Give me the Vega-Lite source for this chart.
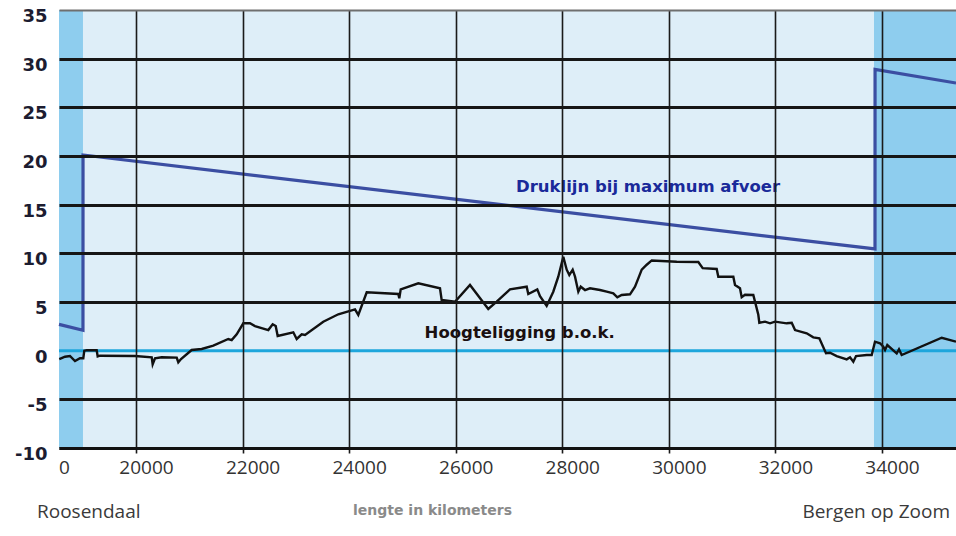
{
  "$schema": "https://vega.github.io/schema/vega-lite/v6.json",
  "width": 897,
  "height": 438,
  "autosize": {"type": "none"},
  "padding": {"left": 59, "top": 10, "right": 0, "bottom": 88},
  "background": "white",
  "config": {"view": {"fill": "#deeef8", "stroke": null}},
  "datasets": {
    "bands": [
      {"x0": 18555, "x1": 19005},
      {"x0": 33850, "x1": 35389}
    ],
    "zero": [{"y": 0}],
    "druk": [
      {"x": 18555, "y": 2.7},
      {"x": 19005, "y": 2.1},
      {"x": 19006, "y": 20.1},
      {"x": 33869, "y": 10.45},
      {"x": 33870, "y": 28.9},
      {"x": 35389, "y": 27.5}
    ],
    "terrain": [
      {"x": 18560, "y": -0.86}, {"x": 18668, "y": -0.62}, {"x": 18761, "y": -0.55},
      {"x": 18855, "y": -1.06}, {"x": 18949, "y": -0.78}, {"x": 19011, "y": -0.78},
      {"x": 19030, "y": 0.0}, {"x": 19075, "y": 0.04}, {"x": 19262, "y": 0.04},
      {"x": 19281, "y": -0.6}, {"x": 19324, "y": -0.52}, {"x": 19981, "y": -0.55},
      {"x": 20295, "y": -0.68}, {"x": 20313, "y": -1.4}, {"x": 20357, "y": -0.78},
      {"x": 20482, "y": -0.68}, {"x": 20764, "y": -0.72}, {"x": 20794, "y": -1.19},
      {"x": 20845, "y": -0.86}, {"x": 21045, "y": 0.07}, {"x": 21233, "y": 0.17},
      {"x": 21451, "y": 0.51}, {"x": 21732, "y": 1.2}, {"x": 21796, "y": 1.09},
      {"x": 21890, "y": 1.68}, {"x": 22014, "y": 2.81}, {"x": 22139, "y": 2.81},
      {"x": 22233, "y": 2.53}, {"x": 22483, "y": 2.12}, {"x": 22565, "y": 2.71},
      {"x": 22622, "y": 2.53}, {"x": 22659, "y": 1.51}, {"x": 22952, "y": 1.89},
      {"x": 23016, "y": 1.2}, {"x": 23110, "y": 1.68}, {"x": 23172, "y": 1.61},
      {"x": 23515, "y": 2.98}, {"x": 23797, "y": 3.74}, {"x": 24110, "y": 4.25},
      {"x": 24172, "y": 3.67}, {"x": 24330, "y": 6.0}, {"x": 24923, "y": 5.82},
      {"x": 24941, "y": 5.38}, {"x": 24968, "y": 6.3}, {"x": 25298, "y": 6.92},
      {"x": 25705, "y": 6.41}, {"x": 25737, "y": 5.2}, {"x": 25987, "y": 5.03},
      {"x": 26268, "y": 6.75}, {"x": 26611, "y": 4.28}, {"x": 26769, "y": 5.03},
      {"x": 27019, "y": 6.3}, {"x": 27332, "y": 6.57}, {"x": 27362, "y": 5.82},
      {"x": 27531, "y": 6.3}, {"x": 27582, "y": 5.6}, {"x": 27707, "y": 4.6},
      {"x": 27831, "y": 6.06}, {"x": 27925, "y": 7.6}, {"x": 28019, "y": 9.65},
      {"x": 28083, "y": 8.32}, {"x": 28132, "y": 7.77}, {"x": 28195, "y": 8.32},
      {"x": 28239, "y": 7.6}, {"x": 28301, "y": 6.06}, {"x": 28346, "y": 6.57},
      {"x": 28427, "y": 6.23}, {"x": 28520, "y": 6.41}, {"x": 28708, "y": 6.23},
      {"x": 28834, "y": 6.06}, {"x": 28958, "y": 5.89}, {"x": 29033, "y": 5.48},
      {"x": 29115, "y": 5.72}, {"x": 29271, "y": 5.79}, {"x": 29365, "y": 6.57},
      {"x": 29427, "y": 7.43}, {"x": 29491, "y": 8.32}, {"x": 29585, "y": 8.83},
      {"x": 29679, "y": 9.27}, {"x": 30148, "y": 9.14}, {"x": 30553, "y": 9.11},
      {"x": 30635, "y": 8.48}, {"x": 30898, "y": 8.39}, {"x": 30928, "y": 7.6},
      {"x": 31210, "y": 7.6}, {"x": 31242, "y": 6.75}, {"x": 31335, "y": 6.41},
      {"x": 31367, "y": 5.5}, {"x": 31429, "y": 5.75}, {"x": 31585, "y": 5.72},
      {"x": 31679, "y": 3.69}, {"x": 31698, "y": 2.87}, {"x": 31805, "y": 2.98},
      {"x": 31899, "y": 2.81}, {"x": 31992, "y": 2.98}, {"x": 32212, "y": 2.81},
      {"x": 32306, "y": 2.87}, {"x": 32368, "y": 2.12}, {"x": 32587, "y": 1.78},
      {"x": 32711, "y": 1.37}, {"x": 32824, "y": 1.27}, {"x": 32949, "y": -0.27},
      {"x": 33024, "y": -0.21}, {"x": 33150, "y": -0.55}, {"x": 33338, "y": -0.89},
      {"x": 33400, "y": -0.68}, {"x": 33462, "y": -1.13}, {"x": 33513, "y": -0.55},
      {"x": 33713, "y": -0.45}, {"x": 33807, "y": -0.45}, {"x": 33869, "y": 0.92},
      {"x": 33963, "y": 0.76}, {"x": 34025, "y": 0.41}, {"x": 34057, "y": 0.07},
      {"x": 34100, "y": 0.58}, {"x": 34276, "y": -0.27}, {"x": 34319, "y": 0.14},
      {"x": 34370, "y": -0.45}, {"x": 35121, "y": 1.33}, {"x": 35389, "y": 0.92}
    ],
    "ann_druk": [{"x": 29609, "y": 16.8, "label": "Druklijn bij maximum afvoer"}],
    "ann_hoog": [{"x": 27201, "y": 1.85, "label": "Hoogteligging b.o.k."}],
    "place_left": [{"x": 18142, "y": -17.2, "label": "Roosendaal"}],
    "place_right": [{"x": 35276, "y": -17.2, "label": "Bergen op Zoom"}]
  },
  "layer": [
    {
      "data": {"name": "bands"},
      "mark": {"type": "rect", "color": "#8ecdee"},
      "encoding": {
        "x": {
          "field": "x0", "type": "quantitative",
          "scale": {"domain": [18555, 35389], "nice": false, "zero": false},
          "axis": {
            "zindex": 1,
            "values": [18555, 20000, 22000, 24000, 26000, 28000, 30000, 32000, 34000],
            "labelExpr": "datum.value < 19000 ? '0' : '' + datum.value",
            "labelFont": "Open Sans",
            "labelFontSize": 19,
            "labelColor": "#333333",
            "labelPadding": 5,
            "labelOffset": {"condition": {"test": "datum.value < 19000", "value": 5}, "value": 10},
            "labelFlush": false,
            "labelOverlap": false,
            "grid": true,
            "gridColor": {"condition": {"test": "datum.value < 19000", "value": "transparent"}, "value": "#1a1a1a"},
            "gridWidth": 1.6,
            "ticks": true,
            "tickSize": 5,
            "tickWidth": 1.6,
            "tickColor": {"condition": {"test": "datum.value < 19000", "value": "transparent"}, "value": "#1a1a1a"},
            "domain": true,
            "domainColor": "#111111",
            "domainWidth": 3,
            "title": "lengte in kilometers",
            "titleFont": "DejaVu Sans",
            "titleFontWeight": "bold",
            "titleFontSize": 14,
            "titleColor": "#8a8a8a",
            "titleX": 373,
            "titleY": 66,
            "titleAlign": "center",
            "titleBaseline": "alphabetic"
          }
        },
        "x2": {"field": "x1"}
      }
    },
    {
      "data": {"name": "zero"},
      "mark": {"type": "rule", "color": "#1ea6dc", "strokeWidth": 3},
      "encoding": {
        "y": {
          "field": "y", "type": "quantitative",
          "scale": {"domain": [-10, 35], "nice": false, "zero": false},
          "axis": {
            "zindex": 1,
            "values": [-10, -5, 0, 5, 10, 15, 20, 25, 30, 35],
            "labelExpr": "'' + datum.value",
            "labelFont": "DejaVu Sans",
            "labelFontWeight": "bold",
            "labelFontSize": 18,
            "labelColor": "#1c1c30",
            "labelPadding": 12,
            "labelOffset": 6.5,
            "labelBaseline": "middle",
            "grid": true,
            "gridColor": {"condition": [
              {"test": "datum.value == 35", "value": "#6f6f6f"},
              {"test": "datum.value == 0", "value": "transparent"}
            ], "value": "#161616"},
            "gridWidth": {"condition": {"test": "datum.value == 35", "value": 2}, "value": 3},
            "ticks": false,
            "domain": false,
            "title": null
          }
        }
      }
    },
    {
      "data": {"name": "druk"},
      "mark": {"type": "line", "color": "#3b4ea2", "strokeWidth": 3.2},
      "encoding": {
        "x": {"field": "x", "type": "quantitative"},
        "y": {"field": "y", "type": "quantitative"}
      }
    },
    {
      "data": {"name": "terrain"},
      "mark": {"type": "line", "color": "#111111", "strokeWidth": 2.4},
      "encoding": {
        "x": {"field": "x", "type": "quantitative"},
        "y": {"field": "y", "type": "quantitative"}
      }
    },
    {
      "data": {"name": "ann_druk"},
      "mark": {"type": "text", "font": "DejaVu Sans", "fontWeight": "bold", "fontSize": 16.5, "color": "#1a2a9a", "align": "center", "baseline": "middle"},
      "encoding": {
        "x": {"field": "x", "type": "quantitative"},
        "y": {"field": "y", "type": "quantitative"},
        "text": {"field": "label"}
      }
    },
    {
      "data": {"name": "ann_hoog"},
      "mark": {"type": "text", "font": "DejaVu Sans", "fontWeight": "bold", "fontSize": 16.5, "color": "#1a1010", "align": "center", "baseline": "middle"},
      "encoding": {
        "x": {"field": "x", "type": "quantitative"},
        "y": {"field": "y", "type": "quantitative"},
        "text": {"field": "label"}
      }
    },
    {
      "data": {"name": "place_left"},
      "mark": {"type": "text", "font": "Open Sans", "fontSize": 19, "color": "#3a3a3a", "align": "left", "baseline": "alphabetic"},
      "encoding": {
        "x": {"field": "x", "type": "quantitative"},
        "y": {"field": "y", "type": "quantitative"},
        "text": {"field": "label"}
      }
    },
    {
      "data": {"name": "place_right"},
      "mark": {"type": "text", "font": "Open Sans", "fontSize": 19, "color": "#3a3a3a", "align": "right", "baseline": "alphabetic"},
      "encoding": {
        "x": {"field": "x", "type": "quantitative"},
        "y": {"field": "y", "type": "quantitative"},
        "text": {"field": "label"}
      }
    }
  ]
}
